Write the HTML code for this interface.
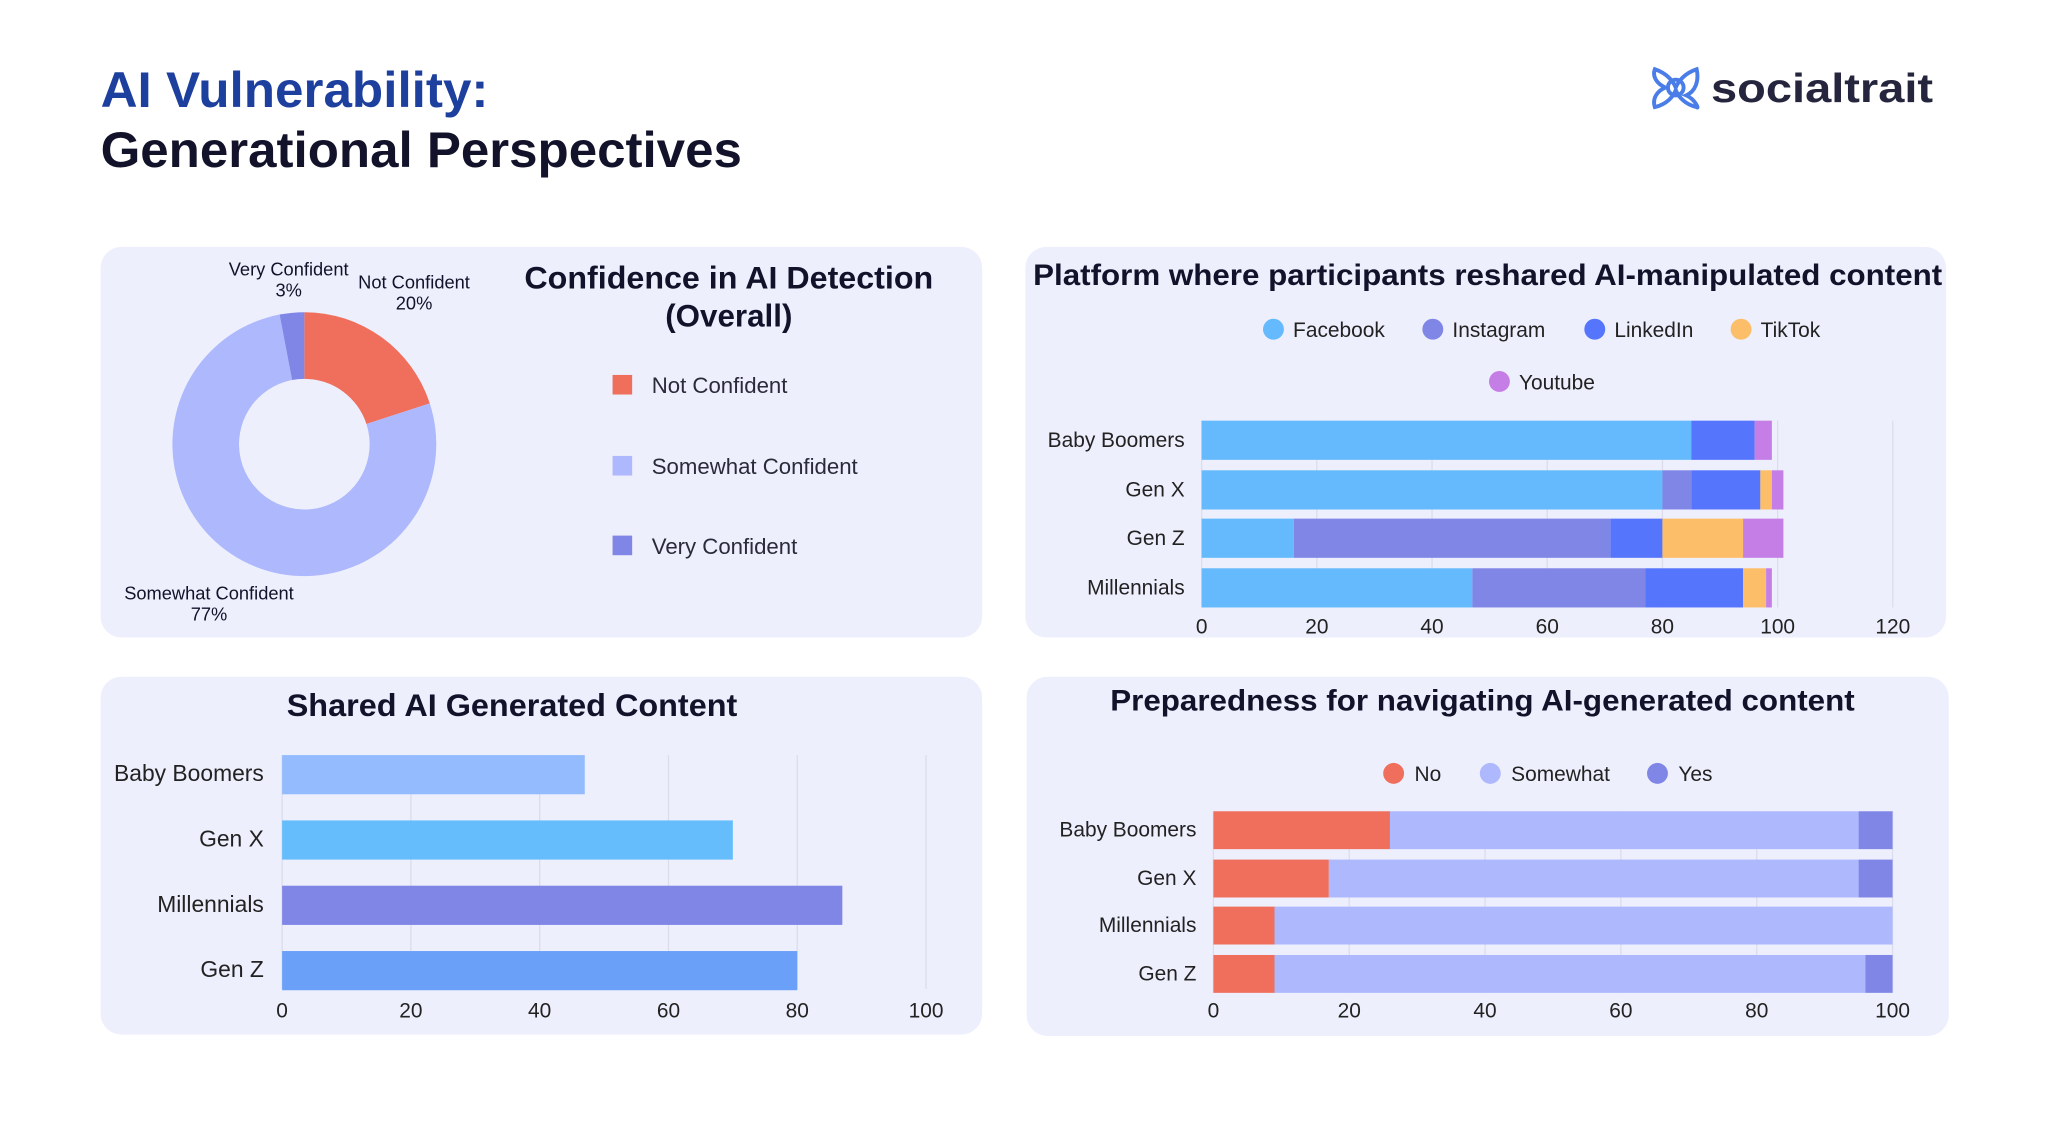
<!DOCTYPE html>
<html><head><meta charset="utf-8">
<style>
html,body{margin:0;padding:0;background:#fff;}
svg{display:block;font-family:"Liberation Sans",sans-serif;}
</style></head>
<body>
<svg id="root" width="2048" height="1147" viewBox="0 0 1568 878" preserveAspectRatio="none" xmlns="http://www.w3.org/2000/svg">
<rect width="1568" height="878" fill="#fff"/>
<text x="77" y="82" font-size="38" font-weight="bold" fill="#1d3f9e" textLength="297" lengthAdjust="spacingAndGlyphs">AI Vulnerability:</text>
<text x="77" y="128" font-size="38" font-weight="bold" fill="#12122a" textLength="491" lengthAdjust="spacingAndGlyphs">Generational Perspectives</text>
<g>
<g fill="none" stroke="#4a7de8" stroke-width="3">
<path d="M1267 53 C1276 56 1281 62 1283 67 C1285 62 1290 56 1299 53 C1301 62 1298 70 1291 73 C1298 76 1301 84 1299 82 C1290 80 1285 74 1283 69 C1281 74 1276 80 1267 82 C1265 76 1268 70 1275 67 C1268 64 1265 58 1267 53 Z"/>
<circle cx="1283" cy="67" r="6"/>
</g>
<text x="1310" y="78" font-size="31" font-weight="bold" fill="#25253d" textLength="170" lengthAdjust="spacingAndGlyphs">socialtrait</text>
</g>

<rect x="77" y="189" width="675" height="299" rx="16" fill="#eeeffd"/>
<rect x="785" y="189" width="705" height="299" rx="16" fill="#eeeffd"/>
<rect x="77" y="518" width="675" height="274" rx="16" fill="#eeeffd"/>
<rect x="786" y="518" width="706" height="275" rx="16" fill="#eeeffd"/>

<text x="558" y="221" font-size="24" font-weight="bold" text-anchor="middle" fill="#12122a" textLength="313" lengthAdjust="spacingAndGlyphs">Confidence in AI Detection</text>
<text x="558" y="250" font-size="24" font-weight="bold" text-anchor="middle" fill="#12122a">(Overall)</text>
<g id="donut"></g>

<text x="1139" y="218" font-size="22.5" font-weight="bold" text-anchor="middle" fill="#12122a" textLength="696" lengthAdjust="spacingAndGlyphs">Platform where participants reshared AI-manipulated content</text>
<g id="platform"></g>

<text x="392" y="548" font-size="24" font-weight="bold" text-anchor="middle" fill="#12122a" textLength="345" lengthAdjust="spacingAndGlyphs">Shared AI Generated Content</text>
<g id="shared"></g>

<text x="1135" y="544" font-size="22.5" font-weight="bold" text-anchor="middle" fill="#12122a" textLength="570" lengthAdjust="spacingAndGlyphs">Preparedness for navigating AI-generated content</text>
<g id="prep"></g>
</svg>
<script>
// Donut data
const donutLabels = ["Not Confident","Somewhat Confident","Very Confident"];
const donutValues = [20,77,3];
const donutColors = ["#ef6f5c","#adb8fd","#7f86e6"];

// Platform chart data
const platCats = ["Baby Boomers","Gen X","Gen Z","Millennials"];
const platSeries = ["Facebook","Instagram","LinkedIn","TikTok","Youtube"];
const platFacebook = [85,80,16,47];
const platInstagram = [0,5,55,30];
const platLinkedIn = [11,12,9,17];
const platTikTok = [0,2,14,4];
const platYoutube = [3,2,7,1];
const platTicks = [0,20,40,60,80,100,120];
const platColors = ["#64bafc","#7f86e6","#5475fc","#fcbe68","#c47ee6"];

// Shared chart data
const sharedCats = ["Baby Boomers","Gen X","Millennials","Gen Z"];
const sharedValues = [47,70,87,80];
const sharedTicks = [0,20,40,60,80,100];
const sharedColors = ["#93bbfd","#66bdfc","#7f86e6","#6aa0f8"];

// Preparedness data
const prepCats = ["Baby Boomers","Gen X","Millennials","Gen Z"];
const prepSeries = ["No","Somewhat","Yes"];
const prepNo = [26,17,9,9];
const prepSomewhat = [69,78,91,87];
const prepYes = [5,5,0,4];
const prepTicks = [0,20,40,60,80,100];
const prepColors = ["#ef6f5c","#adb8fd","#7f86e6"];

const NS="http://www.w3.org/2000/svg";
function mk(parent,tag,attrs,text){const e=document.createElementNS(NS,tag);for(const k in attrs)e.setAttribute(k,attrs[k]);if(text!==undefined)e.textContent=text;parent.appendChild(e);return e;}

// Donut
(function(){
const g=document.getElementById('donut');
const cx=233,cy=340,R=101,r=50;
const total=donutValues.reduce((a,b)=>a+b,0);
let a0=-Math.PI/2;
donutValues.forEach((v,i)=>{
 const a1=a0+v/total*2*Math.PI;
 const lg=(a1-a0)>Math.PI?1:0;
 const p=`M${cx+R*Math.cos(a0)} ${cy+R*Math.sin(a0)} A${R} ${R} 0 ${lg} 1 ${cx+R*Math.cos(a1)} ${cy+R*Math.sin(a1)} L${cx+r*Math.cos(a1)} ${cy+r*Math.sin(a1)} A${r} ${r} 0 ${lg} 0 ${cx+r*Math.cos(a0)} ${cy+r*Math.sin(a0)} Z`;
 const s=mk(g,'path',{d:p,fill:donutColors[i]});
 
 
 a0=a1;
});
const lab=[[317,221,"Not Confident","20%"],[160,459,"Somewhat Confident","77%"],[221,211,"Very Confident","3%"]];
lab.forEach((l,i)=>{
 const t=mk(g,'text',{x:l[0],y:l[1],'font-size':14,'text-anchor':'middle',fill:'#12122a'},l[2]);
 
 
 mk(g,'text',{x:l[0],y:l[1]+16,'font-size':14,'text-anchor':'middle',fill:'#12122a'},donutValues[i]+"%");
});
const ly=[295,357,418];
donutLabels.forEach((n,i)=>{
 const s=mk(g,'rect',{x:469,y:ly[i]-8,width:15,height:15,fill:donutColors[i]});
 
 
 const t=mk(g,'text',{x:499,y:ly[i]+6,'font-size':17,fill:'#2a2a3a'},n);
 
 
});
})();

function hbar(g,cats,series,ticks,x0,unit,ys,h,tickY,labelX,colors,gridTop,gridBot,fs){
 ticks.forEach(t=>{
  const x=x0+t*unit;
  const l=mk(g,'line',{x1:x,x2:x,y1:gridTop,y2:gridBot,stroke:'#dcdcec','stroke-width':1});
  
  
  const tx=mk(g,'text',{x:x,y:tickY,'font-size':16,'text-anchor':'middle',fill:'#222'},String(t));
  
  
 });
 cats.forEach((c,i)=>{
  const t=mk(g,'text',{x:labelX,y:ys[i]+h/2+5,'font-size':fs,'text-anchor':'end',fill:'#222'},c);
  
  
  let acc=0;
  series.forEach((arr,j)=>{
   const v=arr[i]; if(v<=0){return;}
   const r=mk(g,'rect',{x:x0+acc*unit,y:ys[i],width:v*unit,height:h,fill:(series.length===1?colors[i]:colors[j])});
   
   
   acc+=v;
  });
 });
}

// Platform
(function(){
 const g=document.getElementById('platform');
 hbar(g,platCats,[platFacebook,platInstagram,platLinkedIn,platTikTok,platYoutube],platTicks,920,4.41,[322,360,397,435],30,485,907,platColors,322,465,16);
 const leg=[[975,252],[1097,252],[1221,252],[1333,252],[1148,292]];
 platSeries.forEach((n,i)=>{
  const c=mk(g,'circle',{cx:leg[i][0],cy:leg[i][1],r:8,fill:platColors[i]});
  
  
  const t=mk(g,'text',{x:leg[i][0]+15,y:leg[i][1]+6,'font-size':16,fill:'#222'},n);
  
  
 });
})();

// Shared
(function(){
 const g=document.getElementById('shared');
 hbar(g,sharedCats,[sharedValues],sharedTicks,216,4.93,[578,628,678,728],30,779,202,sharedColors,578,757,17.5);
})();

// Preparedness
(function(){
 const g=document.getElementById('prep');
 hbar(g,prepCats,[prepNo,prepSomewhat,prepYes],prepTicks,929,5.2,[621,658,694,731],29,779,916,prepColors,621,760,16);
 const leg=[[1067,592],[1141,592],[1269,592]];
 prepSeries.forEach((n,i)=>{
  const c=mk(g,'circle',{cx:leg[i][0],cy:leg[i][1],r:8,fill:prepColors[i]});
  
  
  const t=mk(g,'text',{x:leg[i][0]+16,y:leg[i][1]+6,'font-size':16,fill:'#222'},n);
  
  
 });
})();
</script>
</body></html>
